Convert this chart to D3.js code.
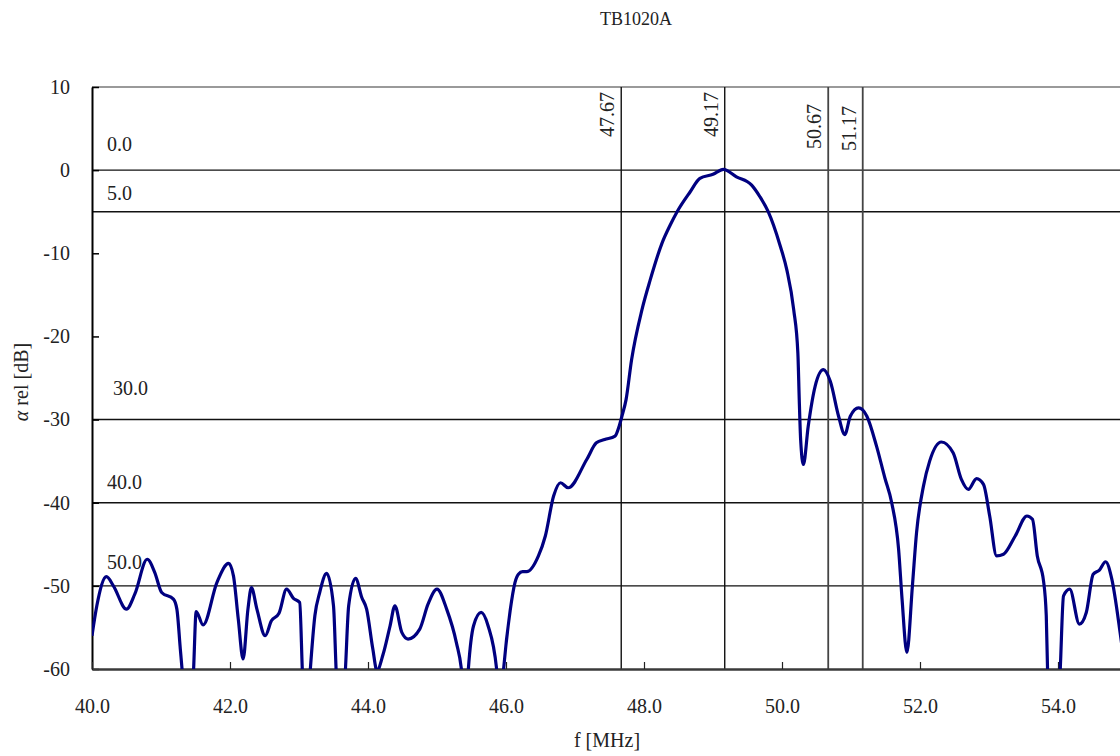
<!DOCTYPE html>
<html>
<head>
<meta charset="utf-8">
<script src="https://cdn.jsdelivr.net/npm/d3@7"></script>
<style>
  body { margin: 0; background: #fff; overflow: hidden; }
  svg { display: block; font-family: "Liberation Serif", "DejaVu Serif", serif; }
</style>
</head>
<body>
<svg width="1120" height="756"></svg>
<script>
// DATA
const freq = [
  40.00, 40.07, 40.21, 40.31, 40.50, 40.62, 40.80, 40.91, 41.01, 41.18,
  41.23, 41.28, 41.31, 41.39, 41.47, 41.51, 41.61, 41.81, 41.98, 42.05,
  42.12, 42.19, 42.26, 42.31, 42.39, 42.51, 42.60, 42.71, 42.82, 42.92,
  43.01, 43.05, 43.10, 43.16, 43.23, 43.30, 43.40, 43.50, 43.54, 43.60,
  43.67, 43.72, 43.82, 43.91, 43.98, 44.07, 44.13, 44.22, 44.32, 44.39,
  44.49, 44.58, 44.75, 44.87, 45.00, 45.14, 45.28, 45.36, 45.41, 45.45,
  45.53, 45.64, 45.74, 45.87, 45.91, 45.96, 46.06, 46.13, 46.18, 46.24,
  46.30, 46.47, 46.57, 46.69, 46.79, 46.90, 47.17, 47.31, 47.43, 47.58,
  47.64, 47.68, 47.74, 47.82, 47.97, 48.09, 48.26, 48.38, 48.48, 48.67,
  48.81, 49.00, 49.15, 49.34, 49.56, 49.68, 49.80, 49.97, 50.07, 50.17,
  50.23, 50.25, 50.27, 50.31, 50.38, 50.48, 50.60, 50.70, 50.82, 50.91,
  50.99, 51.11, 51.23, 51.37, 51.49, 51.59, 51.69, 51.74, 51.81, 51.89,
  51.95, 52.05, 52.14, 52.31, 52.48, 52.60, 52.70, 52.82, 52.92, 53.01,
  53.11, 53.21, 53.38, 53.55, 53.63, 53.70, 53.79, 53.83, 53.85, 53.94,
  54.03, 54.08, 54.17, 54.31, 54.41, 54.51, 54.60, 54.69, 54.78, 54.90,
  55.00
];
const level = [
  -56.0, -52.4, -48.9, -50.0, -52.8, -51.0, -46.8, -48.4, -50.8, -51.6,
  -52.8, -57.6, -60.5, -70.0, -60.5, -53.1, -54.7, -49.6, -47.3, -48.8,
  -54.0, -58.8, -52.8, -50.2, -52.8, -56.0, -54.2, -53.3, -50.4, -51.5,
  -52.0, -60.5, -68.0, -60.5, -53.6, -50.8, -48.5, -52.4, -60.5, -68.0,
  -60.5, -52.4, -49.1, -51.4, -52.8, -57.6, -60.2, -58.2, -54.8, -52.4,
  -55.6, -56.4, -55.2, -52.2, -50.4, -52.8, -56.8, -60.5, -66.0, -60.5,
  -54.8, -53.2, -54.8, -60.5, -66.0, -60.5, -53.0, -49.6, -48.6, -48.3,
  -48.3, -46.4, -44.0, -39.2, -37.6, -38.2, -34.8, -32.8, -32.4, -32.0,
  -30.8, -29.6, -27.6, -22.8, -16.8, -13.2, -8.8, -6.6, -5.0, -2.6,
  -1.0, -0.5, 0.1, -0.8, -1.8, -3.2, -5.0, -9.0, -12.0, -16.8,
  -22.0, -27.6, -32.4, -35.4, -30.8, -26.0, -24.0, -25.4, -29.6, -31.8,
  -29.6, -28.6, -29.6, -33.2, -37.0, -40.0, -45.6, -51.6, -58.0, -50.0,
  -43.6, -38.0, -35.0, -32.7, -34.0, -37.2, -38.4, -37.1, -37.8, -41.6,
  -46.4, -46.2, -44.0, -41.6, -42.0, -46.4, -49.4, -53.6, -60.5, -70.0,
  -60.5, -51.2, -50.4, -54.6, -53.2, -48.6, -48.1, -47.1, -49.2, -55.6,
  -62.0
];

const xTicks = [40, 42, 44, 46, 48, 50, 52, 54];
const yTicks = [10, 0, -10, -20, -30, -40, -50, -60];

// attenuation reference levels (dB below peak)
const attenLevels = [0.0, 5.0, 30.0, 40.0, 50.0];
// marker frequencies
const markerFreqs = [47.67, 49.17, 50.67, 51.17];

// LAYOUT
const attenLabelX = [107, 107, 113, 107, 107];
const attenLabelDy = [19, 12, 25, 14, 17];
const markerLabelTop = [92, 92, 104, 106];

const svg = d3.select('svg');
const margin = { left: 92, top: 87, bottom: 669, right: 1196 };

const x = d3.scaleLinear().domain([40, 56]).range([margin.left, margin.right]);
const y = d3.scaleLinear().domain([-60, 10]).range([margin.bottom, margin.top]);

svg.append('clipPath')
    .attr('id', 'plot')
  .append('rect')
    .attr('x', margin.left)
    .attr('y', margin.top)
    .attr('width', margin.right - margin.left)
    .attr('height', margin.bottom - margin.top);

// TITLE
svg.append('text')
    .attr('x', 636)
    .attr('y', 25)
    .attr('text-anchor', 'middle')
    .attr('font-size', 18)
    .attr('fill', '#222')
    .text('TB1020A');

// top frame line
svg.append('line')
    .attr('x1', margin.left)
    .attr('x2', margin.right)
    .attr('y1', y(10))
    .attr('y2', y(10))
    .attr('stroke', '#9a9a9a')
    .attr('stroke-width', 2);

// reference levels
svg.selectAll('.atten')
  .data(attenLevels)
  .join('line')
    .attr('class', 'atten')
    .attr('x1', margin.left)
    .attr('x2', margin.right)
    .attr('y1', d => y(-d))
    .attr('y2', d => y(-d))
    .attr('stroke', '#111')
    .attr('stroke-width', 1.4);

svg.selectAll('.attenLabel')
  .data(attenLevels)
  .join('text')
    .attr('class', 'attenLabel')
    .attr('x', (d, i) => attenLabelX[i])
    .attr('y', (d, i) => y(-d) - attenLabelDy[i])
    .attr('font-size', 20)
    .attr('fill', '#222')
    .text(d => d.toFixed(1));

// marker lines
svg.selectAll('.marker')
  .data(markerFreqs)
  .join('line')
    .attr('class', 'marker')
    .attr('x1', d => x(d))
    .attr('x2', d => x(d))
    .attr('y1', y(10))
    .attr('y2', y(-60))
    .attr('stroke', (d, i) => i < 2 ? '#111' : '#444')
    .attr('stroke-width', (d, i) => i < 2 ? 1.4 : 1.8);

svg.selectAll('.markerLabel')
  .data(markerFreqs)
  .join('text')
    .attr('class', 'markerLabel')
    .attr('transform', (d, i) => `translate(${x(d) - 7}, ${markerLabelTop[i]}) rotate(-90)`)
    .attr('text-anchor', 'end')
    .attr('font-size', 20)
    .attr('fill', '#222')
    .text(d => d.toFixed(2));

// AXES
const yAxis = d3.axisLeft(y)
    .tickValues(yTicks)
    .tickSizeInner(-7)
    .tickSizeOuter(0)
    .tickPadding(22)
    .tickFormat(d => String(d));   // plain hyphen minus, like the original

svg.append('g')
    .attr('transform', `translate(${margin.left},0)`)
    .call(yAxis)
    .call(g => g.select('.domain').attr('stroke', '#000').attr('stroke-width', 2))
    .call(g => g.selectAll('.tick line').attr('stroke', '#000').attr('stroke-width', 1.5))
    .call(g => g.selectAll('text')
        .attr('font-size', 20)
        .attr('font-family', '"Liberation Serif", serif')
        .attr('fill', '#222'));

const xAxis = d3.axisBottom(x)
    .tickValues(xTicks)
    .tickSizeInner(-7)
    .tickSizeOuter(0)
    .tickFormat(d => d.toFixed(1));

svg.append('g')
    .attr('transform', `translate(0,${margin.bottom})`)
    .call(xAxis)
    .call(g => g.select('.domain').attr('stroke', '#3a3a3a').attr('stroke-width', 2.5))
    .call(g => g.selectAll('.tick line').attr('stroke', '#222').attr('stroke-width', 1.2))
    .call(g => g.selectAll('text')
        .attr('y', 44)
        .attr('dy', null)
        .attr('font-size', 20)
        .attr('font-family', '"Liberation Serif", serif')
        .attr('fill', '#222'));

// axis titles
svg.append('text')
    .attr('x', 607)
    .attr('y', 747)
    .attr('text-anchor', 'middle')
    .attr('font-size', 20)
    .attr('fill', '#222')
    .text('f [MHz]');

const yTitle = svg.append('text')
    .attr('transform', `translate(28, ${(margin.top + margin.bottom) / 2 + 4}) rotate(-90)`)
    .attr('text-anchor', 'middle')
    .attr('font-size', 20)
    .attr('fill', '#222');
yTitle.append('tspan').attr('font-style', 'italic').text('α');
yTitle.append('tspan').text(' rel [dB]');

// CURVE
const points = freq.map((f, i) => [f, level[i]]);
const line = d3.line()
    .x(d => x(d[0]))
    .y(d => y(d[1]))
    .curve(d3.curveMonotoneX);

svg.append('path')
    .datum(points)
    .attr('clip-path', 'url(#plot)')
    .attr('d', line)
    .attr('fill', 'none')
    .attr('stroke', '#000080')
    .attr('stroke-width', 3.2)
    .attr('stroke-linejoin', 'round');
</script>
</body>
</html>
